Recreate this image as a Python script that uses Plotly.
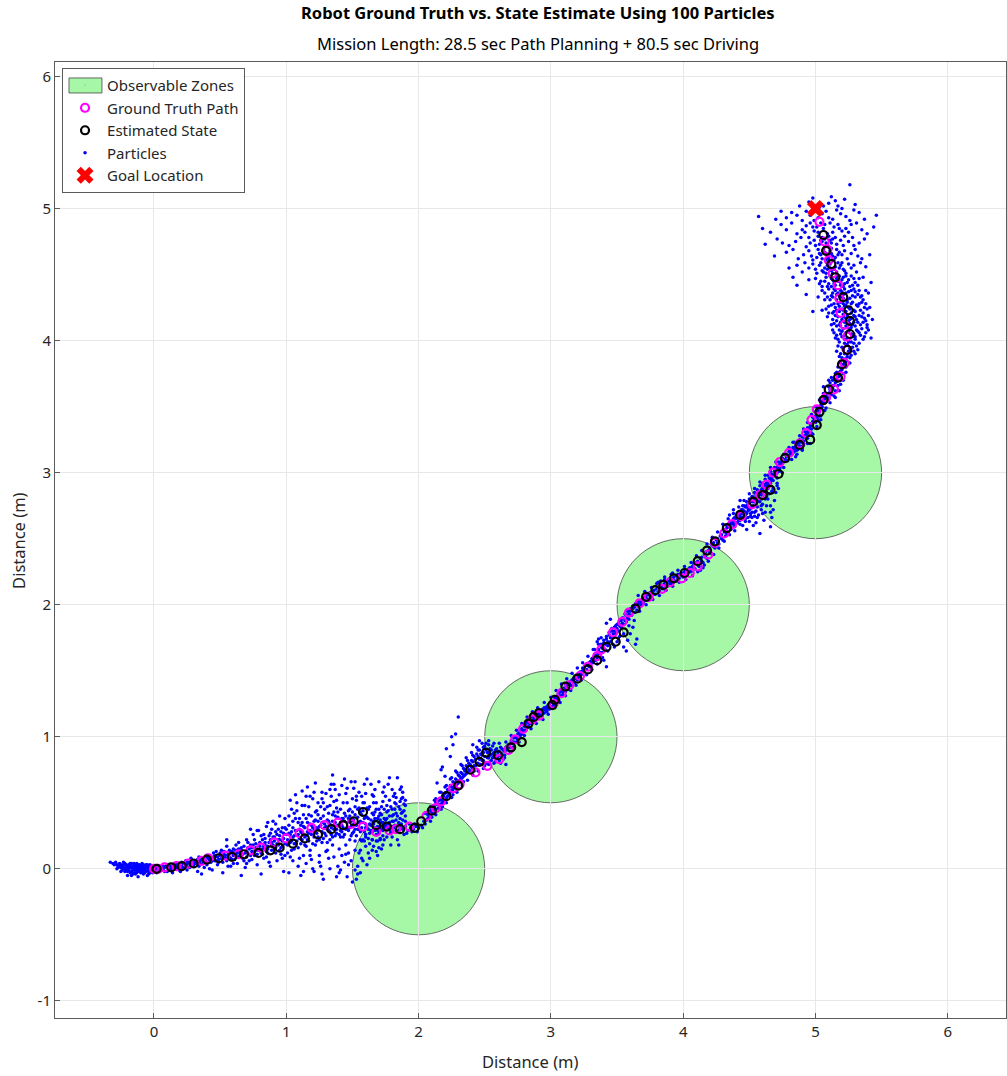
import plotly.graph_objects as go

# ---- mission data -------------------------------------------------------
zone_cx = [2, 3, 4, 5]
zone_cy = [0, 1, 2, 3]
zone_r = [0.5, 0.5, 0.5, 0.5]

goal_x = [5.0]
goal_y = [5.0]

truth_x = [0.00, 0.03, 0.08, 0.17, 0.26, 0.36, 0.41, 0.54, 0.64, 0.73, 0.81, 0.91, 1.00, 1.10,
           1.19, 1.29, 1.39, 1.49, 1.58, 1.68, 1.78, 1.83, 1.93, 2.06, 2.13, 2.17, 2.26, 2.31,
           2.43, 2.52, 2.61, 2.68, 2.73, 2.79, 2.86, 2.91, 3.02, 3.08, 3.14, 3.22, 3.28, 3.35,
           3.38, 3.47, 3.54, 3.59, 3.67, 3.74, 3.84, 3.90, 3.99, 4.05, 4.11, 4.19, 4.24, 4.31,
           4.37, 4.44, 4.52, 4.58, 4.63, 4.68, 4.73, 4.80, 4.88, 4.93, 4.97, 5.01, 5.08, 5.14,
           5.19, 5.22, 5.24, 5.24, 5.22, 5.19, 5.18, 5.17, 5.13, 5.10, 5.09, 5.07, 5.03]
truth_y = [0.00, 0.00, 0.01, 0.02, 0.04, 0.06, 0.08, 0.10, 0.11, 0.14, 0.16, 0.20, 0.23, 0.27,
           0.31, 0.33, 0.35, 0.34, 0.32, 0.28, 0.29, 0.30, 0.32, 0.40, 0.46, 0.51, 0.61, 0.64,
           0.73, 0.78, 0.83, 0.90, 0.98, 1.06, 1.13, 1.16, 1.25, 1.33, 1.39, 1.46, 1.53, 1.61,
           1.66, 1.79, 1.87, 1.94, 2.01, 2.06, 2.12, 2.17, 2.20, 2.24, 2.29, 2.38, 2.47, 2.54,
           2.61, 2.67, 2.76, 2.83, 2.91, 3.00, 3.08, 3.15, 3.22, 3.30, 3.40, 3.48, 3.57, 3.63,
           3.73, 3.83, 3.93, 4.03, 4.12, 4.21, 4.32, 4.42, 4.51, 4.61, 4.69, 4.75, 4.90]

est_x = [0.02, 0.13, 0.21, 0.30, 0.40, 0.49, 0.59, 0.68, 0.79, 0.88, 0.95, 1.05, 1.14, 1.24,
         1.34, 1.43, 1.51, 1.58, 1.68, 1.76, 1.86, 1.97, 2.02, 2.10, 2.21, 2.30, 2.39, 2.46,
         2.51, 2.60, 2.70, 2.78, 2.83, 2.87, 2.91, 3.01, 3.03, 3.11, 3.20, 3.28, 3.35, 3.42,
         3.49, 3.55, 3.64, 3.72, 3.79, 3.85, 3.93, 4.01, 4.11, 4.18, 4.24, 4.33, 4.43, 4.53,
         4.60, 4.66, 4.72, 4.77, 4.88, 4.96, 5.01, 5.03, 5.06, 5.10, 5.17, 5.20, 5.24, 5.26,
         5.26, 5.25, 5.21, 5.15, 5.12, 5.08, 5.06]
est_y = [0.00, 0.01, 0.02, 0.04, 0.07, 0.08, 0.09, 0.11, 0.12, 0.14, 0.16, 0.19, 0.23, 0.26,
         0.30, 0.33, 0.36, 0.43, 0.33, 0.32, 0.30, 0.31, 0.36, 0.44, 0.55, 0.63, 0.75, 0.81,
         0.88, 0.86, 0.92, 0.96, 1.10, 1.15, 1.18, 1.24, 1.28, 1.38, 1.44, 1.51, 1.58, 1.68,
         1.72, 1.79, 1.97, 2.06, 2.11, 2.15, 2.20, 2.24, 2.33, 2.41, 2.48, 2.58, 2.68, 2.78,
         2.83, 2.87, 2.99, 3.11, 3.21, 3.25, 3.36, 3.46, 3.55, 3.63, 3.72, 3.82, 3.93, 4.05,
         4.15, 4.23, 4.33, 4.48, 4.58, 4.68, 4.80]

# particle clouds, grouped by stretch of the drive
particles_start = [
    (-0.33, 0.05), (-0.31, 0.04), (-0.29, 0.05), (-0.28, 0.03), (-0.27, 0.01), (-0.26, 0.04),
    (-0.25, -0.02), (-0.24, 0.02), (-0.23, 0.03), (-0.22, 0.00), (-0.21, -0.01), (-0.20, 0.02),
    (-0.19, 0.03), (-0.18, -0.03), (-0.17, 0.01), (-0.16, -0.01), (-0.15, 0.02), (-0.14, 0.00),
    (-0.13, -0.02), (-0.12, 0.03), (-0.11, 0.01), (-0.10, -0.03), (-0.09, 0.02), (-0.08, 0.00),
    (-0.07, -0.01), (-0.06, 0.03), (-0.05, 0.01), (-0.04, -0.02), (-0.03, 0.02), (-0.02, 0.00),
    (-0.01, -0.03), (0.00, 0.02), (0.01, -0.01), (0.02, 0.01), (0.03, -0.02), (0.04, 0.02),
    (-0.20, -0.05), (-0.16, -0.04), (-0.12, -0.06), (-0.08, -0.04), (-0.05, -0.05), (-0.25, 0.01),
    (-0.18, 0.01), (-0.14, 0.03), (-0.10, 0.00), (-0.06, -0.02), (-0.03, 0.00), (-0.22, 0.04),
    (-0.11, -0.01), (-0.01, 0.01),
    (-0.30, 0.03), (-0.28, 0.00), (-0.26, 0.02), (-0.24, -0.01), (-0.23, 0.05), (-0.21, 0.03),
    (-0.20, -0.02), (-0.19, 0.00), (-0.17, 0.04), (-0.16, 0.02), (-0.15, -0.03), (-0.14, -0.01),
    (-0.13, 0.01), (-0.12, 0.00), (-0.11, 0.03), (-0.10, 0.02), (-0.09, -0.01), (-0.09, 0.00),
    (-0.08, 0.03), (-0.07, 0.01), (-0.07, -0.03), (-0.06, 0.00), (-0.05, -0.01), (-0.05, 0.03),
    (-0.04, 0.01), (-0.03, -0.01), (-0.02, 0.02), (-0.02, -0.02), (-0.01, 0.00), (0.00, -0.01),
    (0.01, 0.02), (0.02, -0.03), (0.03, 0.01), (0.05, 0.00), (0.06, -0.01), (0.07, 0.02),
    (-0.18, 0.02), (-0.15, 0.00), (-0.13, 0.04), (-0.04, -0.04),
    (-0.27, 0.02), (-0.25, 0.03), (-0.23, 0.01), (-0.22, -0.02), (-0.21, 0.01), (-0.19, -0.01),
    (-0.18, 0.04), (-0.17, -0.02), (-0.16, 0.01), (-0.15, 0.04), (-0.14, 0.02), (-0.13, -0.03),
    (-0.12, 0.02), (-0.11, -0.02), (-0.10, 0.01), (-0.09, 0.04), (-0.08, -0.02), (-0.07, 0.02),
    (-0.06, 0.01), (-0.05, 0.02), (-0.04, 0.00), (-0.03, 0.03), (-0.03, -0.03), (-0.01, 0.02),
    (0.00, 0.00), (0.01, 0.01), (0.02, 0.00), (0.04, -0.01), (-0.17, -0.05), (-0.14, -0.04),
]
particles_early = [
    (0.06, 0.01), (0.08, -0.02), (0.10, 0.03), (0.11, -0.01), (0.13, 0.02), (0.14, -0.03),
    (0.16, 0.04), (0.17, 0.00), (0.19, 0.03), (0.20, -0.02), (0.21, 0.05), (0.23, 0.01),
    (0.24, 0.06), (0.25, -0.01), (0.27, 0.04), (0.28, 0.08), (0.30, 0.02), (0.31, 0.06),
    (0.33, -0.02), (0.34, 0.09), (0.35, 0.04), (0.37, 0.07), (0.38, 0.01), (0.40, 0.10),
    (0.41, 0.05), (0.43, 0.08), (0.44, -0.01), (0.45, 0.12), (0.47, 0.06), (0.48, 0.03),
    (0.50, 0.10), (0.51, 0.14), (0.52, 0.05), (0.54, 0.08), (0.55, 0.17), (0.56, 0.02),
    (0.58, 0.12), (0.59, 0.07), (0.60, 0.15), (0.62, 0.10), (0.63, 0.04), (0.64, 0.20),
    (0.65, 0.13), (0.67, 0.08), (0.68, 0.17), (0.69, 0.01), (0.70, 0.22), (0.71, 0.12),
    (0.72, 0.06), (0.74, 0.16), (0.75, 0.26), (0.76, 0.10), (0.77, 0.19), (0.78, 0.03),
    (0.79, 0.29), (0.80, 0.14), (0.81, -0.04), (0.82, 0.22), (0.83, 0.08), (0.84, 0.18),
    (0.85, 0.32), (0.86, 0.12), (0.87, 0.25), (0.88, 0.02), (0.89, 0.20), (0.90, 0.36),
    (0.91, 0.15), (0.92, 0.28), (0.93, 0.06), (0.94, 0.22), (0.95, 0.40), (0.96, 0.11),
    (0.97, 0.31), (0.98, -0.02), (0.99, 0.19), (1.00, 0.26), (0.55, 0.22), (0.78, 0.29),
    (0.86, 0.35), (0.36, -0.04), (0.52, -0.03), (0.66, -0.05), (0.73, 0.30),
    (0.07, 0.00), (0.09, 0.02), (0.10, -0.02), (0.12, 0.01), (0.13, -0.01), (0.15, 0.02),
    (0.16, 0.00), (0.18, 0.02), (0.19, -0.01), (0.21, 0.02), (0.22, 0.00), (0.24, 0.03),
    (0.25, 0.02), (0.26, 0.05), (0.27, 0.01), (0.29, 0.05), (0.30, 0.03), (0.32, 0.06),
    (0.33, 0.04), (0.34, 0.02), (0.36, 0.07), (0.37, 0.04), (0.39, 0.06), (0.40, 0.03),
    (0.42, 0.07), (0.43, 0.05), (0.45, 0.09), (0.46, 0.06), (0.48, 0.09), (0.49, 0.07),
    (0.50, 0.12), (0.52, 0.09), (0.53, 0.11), (0.55, 0.06), (0.56, 0.11), (0.57, 0.09),
    (0.59, 0.13), (0.60, 0.10), (0.61, 0.07), (0.63, 0.12), (0.64, 0.09), (0.66, 0.14),
    (0.67, 0.11), (0.68, 0.06), (0.70, 0.13), (0.71, 0.16), (0.73, 0.10), (0.74, 0.13),
    (0.75, 0.18), (0.77, 0.14), (0.78, 0.11), (0.80, 0.17), (0.81, 0.12), (0.82, 0.15),
    (0.84, 0.20), (0.85, 0.13), (0.86, 0.17), (0.88, 0.22), (0.89, 0.14), (0.90, 0.18),
    (0.91, 0.24), (0.92, 0.12), (0.93, 0.19), (0.95, 0.25), (0.96, 0.16), (0.97, 0.21),
    (0.98, 0.27), (0.99, 0.10), (0.62, 0.18), (0.70, 0.04), (0.83, 0.26), (0.87, 0.05),
    (0.94, 0.30), (0.97, 0.08), (0.58, 0.02), (0.47, 0.13), (0.42, 0.00), (0.76, 0.22),
    (0.92, 0.34), (0.99, 0.38),
    (0.08, 0.01), (0.11, 0.03), (0.14, 0.01), (0.17, 0.03), (0.20, 0.01), (0.22, 0.04),
    (0.25, 0.04), (0.28, 0.03), (0.31, 0.04), (0.33, 0.07), (0.35, 0.06), (0.38, 0.05),
    (0.39, 0.09), (0.41, 0.08), (0.44, 0.06), (0.46, 0.10), (0.49, 0.05), (0.51, 0.08),
    (0.53, 0.13), (0.54, 0.10), (0.57, 0.14), (0.58, 0.08), (0.61, 0.12), (0.62, 0.14),
    (0.65, 0.10), (0.66, 0.16), (0.69, 0.12), (0.70, 0.09), (0.72, 0.15), (0.73, 0.18),
    (0.76, 0.13), (0.77, 0.16), (0.79, 0.14), (0.80, 0.20), (0.82, 0.11), (0.83, 0.17),
    (0.84, 0.23), (0.86, 0.15), (0.87, 0.20), (0.88, 0.27), (0.89, 0.17), (0.90, 0.24),
    (0.91, 0.21), (0.92, 0.16), (0.93, 0.26), (0.94, 0.18), (0.95, 0.22), (0.96, 0.28),
    (0.97, 0.17), (0.98, 0.23), (0.99, 0.31), (1.00, 0.19), (0.60, 0.04), (0.74, 0.07),
    (0.85, 0.09), (0.95, 0.14), (0.89, 0.30), (0.81, 0.25), (0.71, 0.20), (0.64, 0.15),
]
particles_fan = [
    (1.01, 0.18), (1.02, 0.33), (1.03, 0.09), (1.04, 0.45), (1.05, 0.24), (1.02, -0.03), (1.04, 0.28), (1.03, 0.52),
    (1.06, 0.15), (1.07, 0.38), (1.08, 0.21), (1.09, 0.02), (1.10, 0.30), (1.07, 0.56), (1.09, 0.26), (1.06, 0.42),
    (1.11, 0.19), (1.12, 0.35), (1.13, 0.10), (1.14, 0.48), (1.15, 0.25), (1.12, 0.59), (1.14, 0.31), (1.11, -0.05), (1.15, 0.04),
    (1.16, 0.22), (1.17, 0.41), (1.18, 0.14), (1.19, 0.33), (1.20, 0.53), (1.17, 0.27), (1.19, 0.07), (1.16, 0.62),
    (1.21, 0.29), (1.22, 0.18), (1.23, 0.44), (1.24, 0.36), (1.25, 0.10), (1.22, 0.65), (1.24, 0.24), (1.21, -0.02), (1.23, 0.31),
    (1.26, 0.38), (1.27, 0.20), (1.28, 0.50), (1.29, 0.27), (1.30, 0.13), (1.27, 0.58), (1.29, 0.34), (1.28, -0.08), (1.26, 0.02),
    (1.31, 0.30), (1.32, 0.42), (1.33, 0.22), (1.34, 0.55), (1.35, 0.36), (1.32, 0.08), (1.34, 0.64), (1.31, 0.47), (1.35, 0.71), (1.33, 0.28),
    (1.36, 0.33), (1.37, 0.25), (1.38, 0.46), (1.39, 0.39), (1.40, 0.15), (1.37, 0.60), (1.39, 0.02), (1.36, 0.51), (1.38, 0.30), (1.40, -0.03),
    (1.41, 0.35), (1.42, 0.28), (1.43, 0.50), (1.44, 0.42), (1.45, 0.18), (1.42, 0.63), (1.44, 0.05), (1.41, 0.24), (1.43, 0.38), (1.45, 0.57),
    (1.46, 0.31), (1.47, 0.44), (1.48, 0.22), (1.49, 0.36), (1.50, 0.53), (1.47, 0.12), (1.49, 0.66), (1.46, -0.06), (1.48, 0.40), (1.50, 0.27),
    (1.51, 0.34), (1.52, 0.47), (1.53, 0.25), (1.54, 0.39), (1.55, 0.58), (1.52, 0.14), (1.54, 0.02), (1.51, 0.61), (1.53, -0.08), (1.55, 0.30), (1.52, 0.21),
    (1.56, 0.43), (1.57, 0.21), (1.58, 0.35), (1.59, 0.50), (1.60, 0.26), (1.57, 0.08), (1.59, 0.64), (1.56, -0.03), (1.58, 0.22), (1.60, 0.40), (1.57, 0.55),
    (1.61, 0.31), (1.62, 0.45), (1.63, 0.19), (1.64, 0.37), (1.65, 0.56), (1.62, 0.12), (1.64, 0.64), (1.61, 0.03), (1.63, 0.27), (1.65, 0.22),
    (1.66, 0.41), (1.67, 0.29), (1.68, 0.50), (1.69, 0.21), (1.70, 0.35), (1.67, 0.60), (1.69, 0.10), (1.66, 0.17), (1.68, 0.26), (1.70, 0.45),
    (1.71, 0.32), (1.72, 0.47), (1.73, 0.25), (1.74, 0.38), (1.75, 0.55), (1.72, 0.15), (1.74, 0.62), (1.71, 0.22), (1.73, 0.29),
    (1.76, 0.43), (1.77, 0.31), (1.78, 0.52), (1.79, 0.27), (1.80, 0.36), (1.77, 0.64), (1.79, 0.18), (1.80, 0.60), (1.76, 0.24),
    (1.81, 0.41), (1.82, 0.33), (1.83, 0.49), (1.84, 0.69), (1.85, 0.29), (1.82, 0.57), (1.84, 0.22), (1.83, 0.37),
    (1.86, 0.45), (1.87, 0.34), (1.88, 0.54), (1.89, 0.31), (1.90, 0.40), (1.87, 0.62), (1.89, 0.26),
    (1.01, 0.22), (1.02, 0.27), (1.03, 0.20), (1.04, 0.14), (1.05, 0.31), (1.06, 0.25), (1.07, 0.19),
    (1.08, 0.29), (1.09, 0.35), (1.10, 0.23), (1.11, 0.28), (1.12, 0.22), (1.13, 0.32), (1.14, 0.18),
    (1.15, 0.38), (1.16, 0.28), (1.17, 0.21), (1.18, 0.34), (1.19, 0.26), (1.20, 0.31), (1.21, 0.24),
    (1.22, 0.37), (1.23, 0.27), (1.24, 0.30), (1.25, 0.22), (1.26, 0.33), (1.27, 0.28), (1.28, 0.40),
    (1.29, 0.31), (1.30, 0.25), (1.31, 0.37), (1.32, 0.29), (1.33, 0.34), (1.34, 0.26), (1.35, 0.41),
    (1.36, 0.30), (1.37, 0.35), (1.38, 0.27), (1.39, 0.43), (1.40, 0.33), (1.41, 0.29), (1.42, 0.38),
    (1.43, 0.31), (1.44, 0.26), (1.45, 0.40), (1.46, 0.35), (1.47, 0.29), (1.48, 0.45), (1.49, 0.32),
    (1.50, 0.38), (1.51, 0.28), (1.52, 0.41), (1.53, 0.33), (1.54, 0.30), (1.55, 0.46), (1.56, 0.36),
    (1.57, 0.31), (1.58, 0.44), (1.59, 0.28), (1.60, 0.34), (1.61, 0.39), (1.62, 0.30), (1.63, 0.47),
    (1.64, 0.33), (1.65, 0.28), (1.66, 0.36), (1.67, 0.43), (1.68, 0.31), (1.69, 0.38), (1.70, 0.27),
    (1.71, 0.42), (1.72, 0.35), (1.73, 0.51), (1.74, 0.31), (1.75, 0.37), (1.76, 0.48), (1.77, 0.34),
    (1.78, 0.40), (1.79, 0.32), (1.80, 0.45), (1.81, 0.36), (1.82, 0.50), (1.83, 0.42), (1.84, 0.33),
    (1.85, 0.47), (1.86, 0.38), (1.87, 0.53), (1.88, 0.43), (1.89, 0.49), (1.90, 0.36),
    (1.05, 0.06), (1.12, 0.48), (1.18, 0.55), (1.24, 0.50), (1.30, 0.57), (1.36, 0.64), (1.44, 0.68),
    (1.52, 0.66), (1.61, 0.68), (1.70, 0.66), (1.78, 0.69), (1.86, 0.60), (1.13, -0.02), (1.20, 0.00),
    (1.27, -0.04), (1.33, 0.00), (1.38, -0.06), (1.42, 0.10), (1.47, 0.03), (1.50, -0.10), (1.54, -0.04),
    (1.58, 0.06), (1.63, 0.08), (1.68, 0.13), (1.73, 0.18), (1.80, 0.24), (1.85, 0.18), (1.90, 0.48),
    (1.56, 0.14), (1.66, 0.50),
    (1.00, 0.30), (1.01, 0.12), (1.02, 0.40), (1.03, 0.26), (1.04, 0.21), (1.05, 0.36), (1.06, 0.19),
    (1.07, 0.29), (1.08, 0.44), (1.09, 0.16), (1.10, 0.38), (1.11, 0.33), (1.12, 0.27), (1.13, 0.41),
    (1.14, 0.24), (1.15, 0.17), (1.16, 0.35), (1.17, 0.47), (1.18, 0.29), (1.19, 0.40), (1.20, 0.19),
    (1.21, 0.36), (1.22, 0.43), (1.23, 0.21), (1.24, 0.41), (1.25, 0.32), (1.26, 0.47), (1.27, 0.35),
    (1.28, 0.23), (1.29, 0.45), (1.30, 0.32), (1.31, 0.20), (1.32, 0.36), (1.33, 0.48), (1.34, 0.31),
    (1.35, 0.24), (1.36, 0.43), (1.37, 0.40), (1.38, 0.52), (1.39, 0.33), (1.40, 0.26), (1.41, 0.45),
    (1.42, 0.33), (1.43, 0.24), (1.44, 0.36), (1.45, 0.30), (1.46, 0.50), (1.47, 0.38), (1.48, 0.31),
    (1.49, 0.25), (1.50, 0.43), (1.51, 0.37), (1.52, 0.30), (1.53, 0.52), (1.54, 0.45), (1.55, 0.35),
    (1.56, 0.28), (1.57, 0.41), (1.58, 0.50), (1.59, 0.38), (1.60, 0.31), (1.61, 0.46), (1.62, 0.38),
    (1.63, 0.34), (1.64, 0.29), (1.65, 0.42), (1.66, 0.34), (1.67, 0.38), (1.68, 0.45), (1.69, 0.29),
    (1.70, 0.40), (1.71, 0.37), (1.72, 0.41), (1.73, 0.35), (1.74, 0.45), (1.75, 0.33), (1.76, 0.38),
    (1.77, 0.44), (1.78, 0.35), (1.79, 0.47), (1.80, 0.40), (1.81, 0.31), (1.82, 0.45), (1.83, 0.54),
    (1.84, 0.40), (1.85, 0.35), (1.86, 0.51), (1.87, 0.42), (1.88, 0.37), (1.89, 0.44), (1.90, 0.52),
    (1.08, 0.50), (1.15, 0.55), (1.21, 0.58), (1.27, 0.53), (1.33, 0.60), (1.40, 0.56), (1.46, 0.61),
    (1.53, 0.55), (1.60, 0.57), (1.66, 0.55), (1.73, 0.58), (1.81, 0.55), (1.88, 0.58), (1.25, 0.05),
    (1.31, 0.14), (1.36, 0.09), (1.41, -0.01), (1.45, 0.11), (1.49, 0.06), (1.52, -0.01), (1.55, 0.12),
    (1.60, 0.17), (1.65, 0.14), (1.70, 0.16), (1.35, 0.18), (1.18, 0.10), (1.10, 0.08),
]
particles_zone1 = [
    (1.66, 0.31), (1.69, 0.32), (1.72, 0.30), (1.75, 0.31), (1.78, 0.30), (1.80, 0.32), (1.83, 0.29),
    (1.86, 0.31), (1.88, 0.30), (1.90, 0.32), (1.92, 0.29), (1.94, 0.31), (1.96, 0.30), (1.98, 0.32),
    (2.00, 0.31), (2.02, 0.33), (1.91, 0.27), (1.95, 0.28), (1.99, 0.28), (1.85, 0.33), (1.79, 0.28),
    (1.73, 0.33), (1.56, 0.22), (1.59, 0.21), (1.62, 0.23), (1.65, 0.22), (1.68, 0.21), (1.71, 0.23),
    (1.74, 0.22), (1.60, 0.24), (2.04, 0.36), (2.05, 0.34), (2.07, 0.38), (2.03, 0.31), (1.97, 0.34),
    (1.93, 0.34),
    (2.08, 0.40), (2.09, 0.44), (2.10, 0.42), (2.11, 0.47), (2.12, 0.44), (2.14, 0.49), (2.15, 0.46),
    (2.16, 0.52), (2.17, 0.49), (2.18, 0.55), (2.19, 0.51), (2.20, 0.57), (2.21, 0.53), (2.22, 0.60),
    (2.23, 0.56), (2.24, 0.63), (2.25, 0.59), (2.26, 0.66), (2.27, 0.62), (2.28, 0.68), (2.29, 0.64),
    (2.30, 0.71), (2.31, 0.67), (2.32, 0.73), (2.33, 0.69), (2.34, 0.76), (2.35, 0.71), (2.36, 0.78),
    (2.37, 0.73), (2.38, 0.80), (2.39, 0.74), (2.40, 0.82), (2.41, 0.76), (2.42, 0.85), (2.43, 0.78),
    (2.44, 0.87), (2.45, 0.80), (2.46, 0.90), (2.47, 0.79), (2.48, 0.86), (2.49, 0.82), (2.50, 0.93),
    (2.51, 0.80), (2.52, 0.88), (2.53, 0.84), (2.54, 0.91), (2.55, 0.82), (2.56, 0.87), (2.57, 0.85),
    (2.58, 0.90), (2.59, 0.84), (2.60, 0.88), (2.62, 0.86), (2.63, 0.91), (2.64, 0.83), (2.65, 0.89),
    (2.13, 0.50), (2.18, 0.52), (2.27, 0.65), (2.35, 0.75),
    (2.30, 1.15), (2.28, 1.02), (2.25, 1.00), (2.26, 0.94), (2.21, 0.91), (2.18, 0.77), (2.17, 0.75),
    (2.14, 0.65), (2.46, 0.97), (2.41, 0.94), (2.51, 0.95), (2.62, 0.80), (2.66, 0.79), (2.24, 0.85),
    (2.20, 0.70),
    (2.06, 0.37), (2.07, 0.41), (2.08, 0.43), (2.09, 0.40), (2.10, 0.45), (2.11, 0.42), (2.12, 0.47),
    (2.13, 0.45), (2.14, 0.51), (2.15, 0.49), (2.16, 0.48), (2.17, 0.53), (2.18, 0.50), (2.19, 0.55),
    (2.20, 0.53), (2.21, 0.58), (2.22, 0.55), (2.23, 0.60), (2.24, 0.58), (2.25, 0.62), (2.26, 0.60),
    (2.27, 0.64), (2.28, 0.63), (2.29, 0.67), (2.30, 0.65), (2.31, 0.70), (2.32, 0.68), (2.33, 0.72),
    (2.34, 0.70), (2.35, 0.74), (2.36, 0.72), (2.37, 0.77), (2.38, 0.75), (2.39, 0.79), (2.40, 0.77),
    (2.41, 0.81), (2.42, 0.78), (2.43, 0.83), (2.44, 0.80), (2.45, 0.85), (2.46, 0.83), (2.47, 0.87),
    (2.48, 0.82), (2.49, 0.88), (2.50, 0.85), (2.51, 0.90), (2.52, 0.84), (2.53, 0.88), (2.54, 0.86),
    (2.55, 0.90), (2.56, 0.84), (2.57, 0.88), (2.58, 0.86), (2.59, 0.91), (2.60, 0.85), (2.61, 0.89),
    (2.62, 0.92), (2.63, 0.87), (2.64, 0.90), (2.66, 0.92), (2.44, 0.92), (2.48, 0.95), (2.53, 0.97),
    (2.56, 0.93), (2.40, 0.88), (2.36, 0.84), (2.32, 0.79), (2.28, 0.74), (2.24, 0.68), (2.20, 0.62),
    (2.16, 0.58), (2.12, 0.52), (2.42, 0.74), (2.50, 0.78), (2.58, 0.81), (2.34, 0.66), (2.26, 0.56),
    (2.18, 0.47), (2.10, 0.39), (2.65, 0.84),
    (2.05, 0.42), (2.09, 0.47), (2.13, 0.53), (2.17, 0.58), (2.21, 0.63), (2.25, 0.69), (2.29, 0.73),
    (2.33, 0.78), (2.37, 0.82), (2.41, 0.86), (2.45, 0.90), (2.49, 0.92), (2.53, 0.94), (2.57, 0.95),
    (2.61, 0.95), (2.09, 0.36), (2.13, 0.41), (2.17, 0.45), (2.21, 0.50), (2.25, 0.54), (2.29, 0.58),
    (2.33, 0.63), (2.37, 0.67), (2.41, 0.71), (2.45, 0.74), (2.49, 0.76), (2.53, 0.79), (2.57, 0.80),
    (2.61, 0.82), (2.65, 0.86),
]
particles_zone2 = [
    (2.67, 0.93), (2.69, 0.89), (2.70, 0.95), (2.71, 0.92), (2.72, 0.99), (2.74, 0.96), (2.75, 1.02),
    (2.76, 0.99), (2.77, 1.05), (2.78, 1.02), (2.80, 1.08), (2.81, 1.05), (2.82, 1.11), (2.83, 1.08),
    (2.84, 1.13), (2.85, 1.10), (2.87, 1.15), (2.88, 1.12), (2.89, 1.17), (2.90, 1.14), (2.92, 1.19),
    (2.93, 1.16), (2.94, 1.21), (2.95, 1.18), (2.96, 1.22), (2.97, 1.19), (2.98, 1.24), (2.99, 1.21),
    (3.00, 1.26), (3.01, 1.22), (3.03, 1.28), (3.04, 1.25), (3.05, 1.31), (3.06, 1.28), (3.07, 1.34),
    (3.09, 1.32), (3.10, 1.37), (3.11, 1.34), (3.12, 1.39), (3.13, 1.36), (3.15, 1.42), (3.16, 1.39),
    (3.17, 1.44), (3.18, 1.41), (3.19, 1.46), (3.20, 1.43), (3.21, 1.48), (3.23, 1.49), (3.24, 1.52),
    (3.25, 1.49), (3.26, 1.54), (3.27, 1.51), (3.29, 1.56), (3.30, 1.53), (3.31, 1.59), (3.32, 1.56),
    (3.33, 1.61), (3.34, 1.58),
    (3.36, 1.63), (3.37, 1.60), (3.38, 1.68), (3.39, 1.64), (3.40, 1.71), (3.41, 1.66), (3.42, 1.74),
    (3.43, 1.69), (3.44, 1.77), (3.45, 1.72), (3.46, 1.80), (3.47, 1.75), (3.48, 1.83), (3.49, 1.78),
    (3.50, 1.85), (3.51, 1.80), (3.52, 1.88), (3.53, 1.83), (3.54, 1.90), (3.55, 1.85), (3.56, 1.93),
    (3.57, 1.87), (3.58, 1.95), (3.59, 1.89), (3.60, 1.97), (3.61, 1.92), (3.62, 1.99), (3.63, 1.94),
    (3.64, 2.01), (3.65, 1.96), (3.66, 2.03), (3.68, 2.00), (3.45, 1.89), (3.42, 1.86), (3.65, 1.74),
    (3.64, 1.70), (3.57, 1.65), (3.55, 1.68), (3.42, 1.53), (3.40, 1.58), (3.38, 1.75), (3.36, 1.70),
    (3.60, 1.78), (3.58, 1.73), (3.62, 1.83), (3.50, 1.72), (3.48, 1.68), (3.52, 1.76), (3.35, 1.72),
    (3.33, 1.66),
    (2.67, 0.90), (2.68, 0.94), (2.69, 0.92), (2.70, 0.97), (2.71, 0.95), (2.72, 0.96), (2.73, 1.00),
    (2.74, 0.99), (2.75, 0.98), (2.76, 1.03), (2.77, 1.01), (2.78, 1.06), (2.79, 1.04), (2.80, 1.05),
    (2.81, 1.09), (2.82, 1.07), (2.83, 1.12), (2.84, 1.10), (2.85, 1.15), (2.86, 1.12), (2.87, 1.13),
    (2.88, 1.17), (2.89, 1.14), (2.90, 1.19), (2.91, 1.17), (2.92, 1.16), (2.93, 1.20), (2.94, 1.18),
    (2.95, 1.22), (2.96, 1.20), (2.97, 1.23), (2.98, 1.21), (2.99, 1.25), (3.00, 1.23), (3.01, 1.27),
    (3.02, 1.24), (3.03, 1.30), (3.04, 1.28), (3.05, 1.29), (3.06, 1.33), (3.07, 1.31), (3.08, 1.35),
    (3.09, 1.34), (3.10, 1.36), (3.11, 1.40), (3.12, 1.37), (3.13, 1.41), (3.14, 1.40), (3.15, 1.39),
    (3.16, 1.43), (3.17, 1.42), (3.18, 1.45), (3.19, 1.44), (3.20, 1.47), (3.21, 1.45), (3.22, 1.49),
    (3.23, 1.47), (3.24, 1.50), (3.25, 1.52), (3.26, 1.51), (3.27, 1.55), (3.28, 1.54), (3.29, 1.53),
    (3.30, 1.57), (3.31, 1.56), (3.32, 1.60), (3.33, 1.58), (3.34, 1.62), (3.35, 1.60), (3.36, 1.66),
    (3.37, 1.64), (3.38, 1.70), (3.39, 1.67), (3.40, 1.73), (3.41, 1.70), (3.42, 1.76), (3.43, 1.72),
    (3.44, 1.79), (3.45, 1.75), (3.46, 1.82), (3.47, 1.78), (3.48, 1.80), (3.49, 1.84), (3.50, 1.82),
    (3.51, 1.86), (3.52, 1.84), (3.53, 1.88), (3.54, 1.86), (3.55, 1.90), (3.56, 1.88), (3.57, 1.92),
    (3.58, 1.90), (3.59, 1.93), (3.60, 1.95), (3.61, 1.96), (3.62, 1.97), (3.63, 1.98), (3.64, 1.99),
    (3.65, 2.00), (3.66, 2.01),
    (2.66, 0.96), (2.70, 1.01), (2.74, 1.05), (2.78, 1.10), (2.82, 1.15), (2.86, 1.19), (2.90, 1.22),
    (2.95, 1.26), (3.00, 1.30), (3.04, 1.35), (3.08, 1.40), (3.12, 1.44), (3.16, 1.48), (3.20, 1.52),
    (3.24, 1.56), (3.28, 1.61), (3.32, 1.66), (3.36, 1.74),
    (2.72, 0.92), (2.76, 0.96), (2.80, 1.01), (2.85, 1.06), (2.89, 1.10), (2.94, 1.13), (2.98, 1.17),
    (3.03, 1.22), (3.07, 1.26), (3.11, 1.31), (3.15, 1.35), (3.19, 1.39), (3.23, 1.43), (3.27, 1.47),
    (3.31, 1.51), (3.35, 1.55), (3.39, 1.60), (3.43, 1.65), (3.47, 1.70), (3.51, 1.74), (3.55, 1.78),
    (3.59, 1.84), (3.63, 1.88), (3.67, 1.95),
]
particles_zone3 = [
    (3.69, 2.04), (3.70, 2.01), (3.72, 2.07), (3.73, 2.04), (3.75, 2.09), (3.76, 2.06), (3.78, 2.11),
    (3.79, 2.08), (3.81, 2.13), (3.82, 2.10), (3.84, 2.15), (3.85, 2.12), (3.87, 2.17), (3.88, 2.14),
    (3.90, 2.20), (3.91, 2.16), (3.93, 2.21), (3.94, 2.18), (3.96, 2.23), (3.97, 2.20), (3.99, 2.24),
    (4.00, 2.21), (4.02, 2.26), (4.03, 2.23), (4.05, 2.28), (4.06, 2.25), (4.08, 2.31), (4.09, 2.27),
    (4.11, 2.33), (4.12, 2.29), (4.14, 2.36), (4.15, 2.32), (4.17, 2.40), (4.18, 2.35), (4.20, 2.43),
    (4.21, 2.39), (4.23, 2.47), (4.24, 2.43), (4.26, 2.50), (4.27, 2.46), (4.29, 2.53), (4.30, 2.49),
    (3.86, 2.19), (3.83, 2.18), (3.80, 2.16), (3.92, 2.24), (4.13, 2.26), (4.16, 2.30),
    (4.31, 2.57), (4.32, 2.52), (4.33, 2.60), (4.34, 2.55), (4.35, 2.62), (4.36, 2.57), (4.38, 2.65),
    (4.39, 2.59), (4.40, 2.67), (4.41, 2.62), (4.42, 2.70), (4.43, 2.64), (4.44, 2.72), (4.45, 2.66),
    (4.46, 2.75), (4.47, 2.68), (4.48, 2.78), (4.49, 2.71), (4.50, 2.80), (4.51, 2.73), (4.52, 2.82),
    (4.53, 2.75), (4.54, 2.85), (4.55, 2.77), (4.56, 2.87), (4.57, 2.80), (4.58, 2.90), (4.59, 2.83),
    (4.60, 2.92), (4.61, 2.86), (4.62, 2.95), (4.63, 2.88), (4.64, 2.98), (4.65, 2.91), (4.66, 3.01),
    (4.67, 2.94), (4.69, 3.04), (4.70, 2.97), (4.72, 3.08), (4.73, 3.01), (4.75, 3.11), (4.76, 3.04),
    (4.68, 2.72), (4.66, 2.59), (4.58, 2.54), (4.48, 2.57), (4.40, 2.65), (4.55, 2.62), (4.62, 2.70),
    (4.52, 2.66), (4.60, 2.76), (4.57, 2.68), (4.64, 2.80), (4.70, 2.85), (4.50, 2.63), (4.45, 2.60),
    (4.35, 2.68), (4.38, 2.72), (4.43, 2.79), (4.66, 2.75), (4.54, 2.70), (4.71, 2.92),
    (3.68, 2.02), (3.70, 2.05), (3.71, 2.03), (3.72, 2.05), (3.74, 2.08), (3.75, 2.06), (3.77, 2.10),
    (3.78, 2.08), (3.80, 2.12), (3.81, 2.10), (3.83, 2.14), (3.84, 2.12), (3.86, 2.16), (3.87, 2.14),
    (3.89, 2.18), (3.90, 2.16), (3.92, 2.20), (3.93, 2.18), (3.95, 2.22), (3.96, 2.20), (3.98, 2.23),
    (3.99, 2.22), (4.01, 2.25), (4.02, 2.24), (4.04, 2.27), (4.05, 2.25), (4.07, 2.29), (4.08, 2.28),
    (4.10, 2.32), (4.11, 2.30), (4.13, 2.35), (4.14, 2.33), (4.16, 2.38), (4.17, 2.36), (4.19, 2.41),
    (4.20, 2.40), (4.22, 2.45), (4.23, 2.44), (4.25, 2.49), (4.26, 2.47), (4.28, 2.52), (4.29, 2.50),
    (4.31, 2.55), (4.32, 2.56), (4.33, 2.58), (4.34, 2.59), (4.36, 2.61), (4.37, 2.62), (4.38, 2.63),
    (4.39, 2.66), (4.41, 2.66), (4.42, 2.68), (4.43, 2.70), (4.44, 2.69), (4.45, 2.72), (4.46, 2.71),
    (4.47, 2.74), (4.48, 2.75), (4.49, 2.76), (4.50, 2.77), (4.51, 2.79), (4.52, 2.78), (4.53, 2.81),
    (4.54, 2.80), (4.55, 2.83), (4.56, 2.82), (4.57, 2.85), (4.58, 2.84), (4.59, 2.87), (4.60, 2.88),
    (4.61, 2.89), (4.62, 2.91), (4.63, 2.93), (4.64, 2.92), (4.65, 2.96), (4.66, 2.95), (4.67, 2.99),
    (4.68, 2.98), (4.69, 3.01), (4.70, 3.02), (4.71, 3.04), (4.72, 3.05), (4.73, 3.06), (4.74, 3.08),
    (4.75, 3.07), (4.76, 3.09),
    (4.47, 2.63), (4.51, 2.69), (4.53, 2.60), (4.56, 2.66), (4.59, 2.72), (4.61, 2.64), (4.63, 2.75),
    (4.65, 2.84), (4.67, 2.66), (4.69, 2.79), (4.72, 2.88), (4.49, 2.66), (4.56, 2.74), (4.62, 2.80),
    (4.33, 2.54), (4.35, 2.59), (4.37, 2.58), (4.38, 2.61), (4.40, 2.62), (4.41, 2.69), (4.42, 2.64),
    (4.44, 2.66), (4.45, 2.75), (4.46, 2.68), (4.47, 2.70), (4.49, 2.73), (4.50, 2.72), (4.52, 2.74),
    (4.53, 2.78), (4.55, 2.80), (4.56, 2.78), (4.57, 2.83), (4.59, 2.80), (4.60, 2.85), (4.62, 2.86),
    (4.63, 2.90), (4.64, 2.88), (4.66, 2.92), (4.67, 2.96), (4.68, 2.94), (4.70, 2.99), (4.71, 3.00),
    (4.73, 3.03), (4.74, 3.05), (4.52, 2.70), (4.58, 2.78), (4.64, 2.84), (4.68, 2.88), (4.54, 2.67),
    (4.60, 2.69), (4.48, 2.69), (4.43, 2.67), (4.66, 2.70), (4.71, 2.96),
    (3.66, 2.07), (3.71, 2.10), (3.76, 2.13), (3.81, 2.17), (3.86, 2.21), (3.91, 2.23), (3.96, 2.26),
    (4.01, 2.29), (4.06, 2.32), (4.10, 2.37), (4.14, 2.41), (4.18, 2.46), (4.22, 2.51), (4.26, 2.55),
    (4.30, 2.61), (4.34, 2.65), (4.38, 2.69), (4.42, 2.74), (4.46, 2.79), (4.50, 2.84), (4.54, 2.88),
    (4.58, 2.93), (4.62, 2.98), (4.66, 3.04), (4.70, 3.08),
    (3.72, 2.00), (3.77, 2.04), (3.82, 2.07), (3.87, 2.11), (3.92, 2.14), (3.97, 2.17), (4.02, 2.19),
    (4.07, 2.22), (4.11, 2.25), (4.15, 2.28), (4.19, 2.33), (4.23, 2.38), (4.27, 2.43), (4.31, 2.48),
    (4.35, 2.53), (4.39, 2.56), (4.43, 2.61), (4.47, 2.65), (4.51, 2.67), (4.55, 2.71), (4.59, 2.75),
    (4.63, 2.82), (4.67, 2.86), (4.71, 2.90), (4.75, 3.00),
]
particles_zone4 = [
    (4.77, 3.10), (4.78, 3.14), (4.79, 3.12), (4.81, 3.17), (4.82, 3.14), (4.83, 3.19), (4.84, 3.16),
    (4.86, 3.21), (4.87, 3.18), (4.88, 3.25), (4.89, 3.20), (4.90, 3.27), (4.91, 3.24), (4.92, 3.31),
    (4.93, 3.26), (4.94, 3.34), (4.95, 3.30), (4.96, 3.37), (4.97, 3.33), (4.98, 3.42), (4.99, 3.38),
    (5.00, 3.46), (5.01, 3.42), (5.02, 3.50), (5.03, 3.46), (5.04, 3.54), (5.05, 3.50), (5.06, 3.57),
    (5.07, 3.53), (5.09, 3.60), (5.10, 3.56), (5.11, 3.63), (5.12, 3.59), (5.13, 3.66), (5.15, 3.62),
    (5.16, 3.69), (5.17, 3.66), (5.18, 3.76), (5.19, 3.70), (5.20, 3.80), (5.21, 3.75), (5.22, 3.86),
    (5.23, 3.80), (4.85, 3.12), (4.90, 3.18), (4.96, 3.22), (5.02, 3.40), (5.08, 3.49), (5.14, 3.58),
    (5.12, 3.72), (5.06, 3.65), (5.10, 3.70), (5.17, 3.80),
    (4.78, 3.12), (4.80, 3.13), (4.81, 3.15), (4.82, 3.17), (4.84, 3.18), (4.85, 3.20), (4.86, 3.19),
    (4.87, 3.22), (4.89, 3.23), (4.90, 3.24), (4.91, 3.27), (4.92, 3.28), (4.93, 3.29), (4.94, 3.31),
    (4.95, 3.33), (4.96, 3.35), (4.97, 3.36), (4.98, 3.39), (4.99, 3.41), (5.00, 3.43), (5.01, 3.45),
    (5.02, 3.47), (5.03, 3.49), (5.04, 3.51), (5.05, 3.53), (5.06, 3.54), (5.07, 3.56), (5.08, 3.58),
    (5.09, 3.57), (5.10, 3.60), (5.11, 3.61), (5.12, 3.63), (5.13, 3.64), (5.14, 3.66), (5.15, 3.68),
    (5.16, 3.71), (5.17, 3.73), (5.18, 3.73), (5.19, 3.77), (5.20, 3.78), (5.21, 3.82), (5.22, 3.83),
    (5.23, 3.84), (5.24, 3.88), (4.83, 3.23), (4.91, 3.22), (5.04, 3.43), (5.11, 3.68), (5.19, 3.67),
    (5.15, 3.75),
    (4.79, 3.09), (4.80, 3.16), (4.83, 3.15), (4.86, 3.17), (4.88, 3.20), (4.91, 3.21), (4.94, 3.26),
    (4.97, 3.30), (5.00, 3.38), (5.03, 3.43),
    (4.76, 3.14), (4.80, 3.19), (4.84, 3.23), (4.88, 3.28), (4.91, 3.33), (4.94, 3.38), (4.97, 3.44),
    (5.00, 3.50), (5.03, 3.55), (5.06, 3.60), (5.10, 3.65), (5.13, 3.70), (5.16, 3.76), (5.19, 3.83),
    (4.82, 3.10), (4.86, 3.14), (4.90, 3.17), (4.94, 3.22), (4.98, 3.29), (5.01, 3.35), (5.04, 3.40),
    (5.07, 3.47), (5.11, 3.53), (5.15, 3.57), (5.18, 3.62), (5.21, 3.70), (5.23, 3.76), (5.26, 3.83),
]
particles_final = [
    (5.18, 3.88), (5.22, 3.90), (5.26, 3.87), (5.29, 3.92), (5.20, 3.95), (5.24, 3.97), (5.31, 3.96),
    (5.16, 3.92), (5.27, 3.99), (5.23, 3.86),
    (5.15, 4.02), (5.19, 4.05), (5.22, 4.01), (5.25, 4.07), (5.28, 4.03), (5.31, 4.08), (5.34, 4.04),
    (5.38, 4.06), (5.21, 4.09), (5.27, 4.10), (5.42, 4.02), (5.13, 4.08),
    (5.12, 4.12), (5.16, 4.15), (5.19, 4.11), (5.23, 4.17), (5.26, 4.13), (5.29, 4.19), (5.32, 4.14),
    (5.35, 4.18), (5.39, 4.12), (5.43, 4.16), (5.21, 4.20), (5.09, 4.18), (5.30, 4.11),
    (5.05, 4.23), (5.10, 4.26), (5.14, 4.22), (5.17, 4.28), (5.20, 4.24), (5.24, 4.29), (5.27, 4.21),
    (5.31, 4.27), (5.34, 4.23), (5.38, 4.28), (4.98, 4.22), (5.22, 4.26), (5.41, 4.25),
    (5.02, 4.33), (5.07, 4.36), (5.11, 4.31), (5.15, 4.38), (5.18, 4.34), (5.22, 4.39), (5.26, 4.32),
    (5.30, 4.37), (5.34, 4.33), (5.40, 4.36), (4.93, 4.35), (5.13, 4.33), (5.20, 4.37),
    (4.86, 4.42), (4.95, 4.46), (5.03, 4.43), (5.08, 4.48), (5.12, 4.41), (5.16, 4.47), (5.19, 4.44),
    (5.23, 4.49), (5.28, 4.42), (5.33, 4.47), (5.42, 4.44), (4.83, 4.48), (5.14, 4.45), (5.21, 4.41),
    (4.80, 4.55), (4.90, 4.52), (4.98, 4.58), (5.05, 4.53), (5.09, 4.57), (5.13, 4.51), (5.17, 4.59),
    (5.21, 4.54), (5.25, 4.58), (5.31, 4.52), (5.38, 4.56), (5.11, 4.55), (4.92, 4.59),
    (4.69, 4.64), (4.78, 4.67), (4.87, 4.62), (4.95, 4.68), (5.01, 4.63), (5.06, 4.69), (5.10, 4.65),
    (5.14, 4.61), (5.18, 4.67), (5.24, 4.62), (5.30, 4.69), (5.41, 4.65), (5.08, 4.61), (5.12, 4.70),
    (4.62, 4.73), (4.71, 4.77), (4.80, 4.72), (4.89, 4.78), (4.96, 4.74), (5.02, 4.79), (5.07, 4.71),
    (5.11, 4.76), (5.16, 4.73), (5.22, 4.79), (5.29, 4.72), (5.37, 4.77), (5.05, 4.75),
    (4.60, 4.85), (4.66, 4.82), (4.74, 4.88), (4.78, 4.84), (4.86, 4.81), (4.93, 4.87), (4.99, 4.83),
    (5.04, 4.89), (5.09, 4.81), (5.14, 4.86), (5.20, 4.83), (5.27, 4.88), (5.35, 4.84), (5.44, 4.86),
    (5.01, 4.86),
    (4.57, 4.94), (4.70, 4.92), (4.82, 4.97), (4.90, 4.91), (4.96, 4.95), (5.02, 4.93), (5.08, 4.98),
    (5.13, 4.92), (5.19, 4.96), (5.26, 4.91), (5.33, 4.97), (5.46, 4.95), (4.74, 4.98),
    (4.88, 5.02), (4.95, 5.05), (5.03, 5.01), (5.10, 5.04), (5.17, 5.02), (5.22, 5.07), (5.30, 5.03),
    (5.12, 5.09), (5.26, 5.18), (4.98, 5.08),
    (5.19, 3.90), (5.21, 3.93), (5.25, 3.92), (5.28, 3.95), (5.22, 3.98), (5.30, 3.90), (5.17, 3.96),
    (5.26, 3.94), (5.33, 3.98),
    (5.16, 4.04), (5.18, 4.08), (5.20, 4.03), (5.23, 4.06), (5.24, 4.02), (5.26, 4.09), (5.29, 4.05),
    (5.30, 4.01), (5.32, 4.07), (5.35, 4.09), (5.36, 4.01), (5.40, 4.08), (5.17, 4.01),
    (5.14, 4.13), (5.17, 4.18), (5.18, 4.12), (5.20, 4.16), (5.22, 4.14), (5.24, 4.19), (5.25, 4.15),
    (5.27, 4.17), (5.28, 4.12), (5.31, 4.16), (5.33, 4.19), (5.36, 4.14), (5.37, 4.17), (5.15, 4.19),
    (5.40, 4.19),
    (5.08, 4.24), (5.12, 4.27), (5.13, 4.21), (5.15, 4.25), (5.18, 4.22), (5.19, 4.29), (5.21, 4.23),
    (5.23, 4.27), (5.25, 4.25), (5.28, 4.29), (5.29, 4.23), (5.32, 4.26), (5.35, 4.29), (5.36, 4.21),
    (5.39, 4.24),
    (5.05, 4.38), (5.09, 4.33), (5.10, 4.39), (5.13, 4.36), (5.16, 4.31), (5.17, 4.36), (5.19, 4.33),
    (5.21, 4.35), (5.24, 4.31), (5.25, 4.37), (5.28, 4.34), (5.29, 4.39), (5.32, 4.35), (5.36, 4.31),
    (5.38, 4.38),
    (5.00, 4.47), (5.05, 4.41), (5.07, 4.45), (5.10, 4.43), (5.11, 4.49), (5.13, 4.46), (5.15, 4.42),
    (5.17, 4.45), (5.18, 4.49), (5.20, 4.46), (5.22, 4.43), (5.25, 4.46), (5.27, 4.49), (5.30, 4.44),
    (5.36, 4.48),
    (4.95, 4.55), (5.01, 4.51), (5.03, 4.57), (5.07, 4.55), (5.08, 4.51), (5.10, 4.59), (5.12, 4.53),
    (5.15, 4.56), (5.16, 4.52), (5.19, 4.57), (5.23, 4.51), (5.27, 4.55), (5.34, 4.59), (4.86, 4.57),
    (4.91, 4.65), (4.98, 4.61), (5.03, 4.66), (5.05, 4.62), (5.07, 4.67), (5.09, 4.63), (5.11, 4.68),
    (5.13, 4.64), (5.16, 4.69), (5.20, 4.65), (5.27, 4.66), (5.35, 4.62), (4.83, 4.69),
    (4.85, 4.75), (4.93, 4.71), (4.99, 4.76), (5.03, 4.73), (5.05, 4.78), (5.08, 4.74), (5.10, 4.79),
    (5.13, 4.77), (5.19, 4.76), (5.25, 4.75), (5.33, 4.74), (4.75, 4.74),
    (4.82, 4.89), (4.90, 4.84), (4.96, 4.89), (5.02, 4.82), (5.06, 4.85), (5.11, 4.89), (5.17, 4.88),
    (5.23, 4.85), (5.31, 4.89), (5.39, 4.81),
    (4.86, 4.95), (4.93, 4.98), (4.99, 4.91), (5.05, 4.96), (5.10, 4.93), (5.16, 4.99), (5.23, 4.94),
    (5.29, 4.99), (5.37, 4.92), (4.78, 4.93), (5.06, 5.02), (5.15, 5.06), (5.20, 5.00),
    (5.20, 3.87), (5.27, 3.89), (5.32, 3.93), (5.18, 3.99), (5.25, 3.99), (5.29, 3.98),
    (5.14, 4.06), (5.20, 4.07), (5.22, 4.04), (5.27, 4.05), (5.30, 4.03), (5.33, 4.06), (5.37, 4.03),
    (5.39, 4.10), (5.24, 4.10),
    (5.13, 4.16), (5.16, 4.11), (5.19, 4.14), (5.21, 4.18), (5.24, 4.13), (5.26, 4.16), (5.29, 4.14),
    (5.30, 4.18), (5.34, 4.12), (5.38, 4.15), (5.23, 4.11),
    (5.10, 4.21), (5.14, 4.28), (5.16, 4.23), (5.18, 4.26), (5.21, 4.28), (5.23, 4.22), (5.26, 4.24),
    (5.27, 4.28), (5.30, 4.22), (5.33, 4.28), (5.37, 4.25),
    (5.07, 4.31), (5.12, 4.34), (5.14, 4.39), (5.16, 4.35), (5.19, 4.38), (5.21, 4.32), (5.23, 4.36),
    (5.27, 4.38), (5.30, 4.33), (5.33, 4.38), (5.35, 4.34),
    (5.04, 4.45), (5.09, 4.41), (5.12, 4.47), (5.14, 4.43), (5.16, 4.49), (5.19, 4.42), (5.21, 4.48),
    (5.24, 4.44), (5.26, 4.41), (5.29, 4.47), (5.32, 4.42),
    (5.00, 4.54), (5.04, 4.59), (5.06, 4.52), (5.09, 4.54), (5.11, 4.58), (5.14, 4.54), (5.18, 4.55),
    (5.20, 4.59), (5.22, 4.53), (5.29, 4.57),
    (4.97, 4.64), (5.02, 4.69), (5.04, 4.65), (5.08, 4.66), (5.10, 4.62), (5.12, 4.66), (5.15, 4.63),
    (5.17, 4.65), (5.22, 4.68), (5.32, 4.64),
    (4.95, 4.78), (5.00, 4.72), (5.04, 4.76), (5.07, 4.77), (5.09, 4.72), (5.12, 4.74), (5.15, 4.78),
    (5.21, 4.72), (5.28, 4.78),
    (4.92, 4.82), (4.98, 4.86), (5.07, 4.88), (5.13, 4.82), (5.18, 4.85), (5.25, 4.82),
]

x_ticks = [0, 1, 2, 3, 4, 5, 6]
y_ticks = [-1, 0, 1, 2, 3, 4, 5, 6]
y_tick_text = ["-1", "0", "1", "2", "3", "4", "5", "6"]

# ---- styling ------------------------------------------------------------
FONT = "Noto Sans"
INK = "rgb(38,38,38)"
ZONE_FILL = "rgb(166,248,166)"
ZONE_EDGE = "rgb(70,70,70)"
FRAME = "rgb(90,90,90)"

all_particles = (particles_start + particles_early + particles_fan + particles_zone1
                 + particles_zone2 + particles_zone3 + particles_zone4 + particles_final)
part_x = [p[0] for p in all_particles]
part_y = [p[1] for p in all_particles]

fig = go.Figure()

# legend row for the zones; its swatch is the rectangle drawn in the legend area below
fig.add_trace(go.Scatter(
    x=[None], y=[None], mode="markers", name="Observable Zones",
    marker=dict(size=1, opacity=0), legendrank=1))

fig.add_trace(go.Scatter(
    x=part_x, y=part_y, mode="markers", name="Particles",
    marker=dict(color="rgb(0,0,255)", size=3.5, line=dict(width=0)),
    legendrank=4))

fig.add_trace(go.Scatter(
    x=truth_x, y=truth_y, mode="markers", name="Ground Truth Path",
    marker=dict(symbol="circle-open", color="rgb(255,0,255)", size=8,
                line=dict(width=2.2, color="rgb(255,0,255)")),
    legendrank=2))

fig.add_trace(go.Scatter(
    x=est_x, y=est_y, mode="markers", name="Estimated State",
    marker=dict(symbol="circle-open", color="black", size=8,
                line=dict(width=2.2, color="black")),
    legendrank=3))

fig.add_trace(go.Scatter(
    x=goal_x, y=goal_y, mode="markers", name="Goal Location",
    marker=dict(symbol="x", color="rgb(255,0,0)", size=15, line=dict(width=0)),
    legendrank=5))

# observable zones as discs
for cx, cy, r in zip(zone_cx, zone_cy, zone_r):
    fig.add_shape(type="circle", xref="x", yref="y",
                  x0=cx - r, x1=cx + r, y0=cy - r, y1=cy + r,
                  fillcolor=ZONE_FILL, line=dict(color=ZONE_EDGE, width=0.8),
                  layer="below")

# legend backing (the legend itself is transparent) and the zone swatch
fig.add_shape(type="rect", xref="paper", yref="paper",
              x0=0.0084, x1=0.1977, y0=0.8640, y1=0.9927,
              fillcolor="white", line=dict(width=0), layer="above")
fig.add_shape(type="rect", xref="paper", yref="paper",
              x0=0.0147, x1=0.0494, y0=0.9676, y1=0.9833,
              fillcolor=ZONE_FILL, line=dict(color=ZONE_EDGE, width=0.8), layer="above")

axis_common = dict(
    showgrid=True, gridcolor="rgb(232,232,232)", gridwidth=1,
    zeroline=False, showline=True, linecolor=FRAME, linewidth=1,
    mirror=True, ticks="inside", ticklen=5, tickcolor=FRAME,
    tickfont=dict(family=FONT, size=15, color=INK),
)

fig.update_layout(
    width=1007, height=1076,
    margin=dict(l=55, r=1, t=62, b=58),
    paper_bgcolor="white", plot_bgcolor="white",
    font=dict(family=FONT, color=INK),
    xaxis=dict(range=[-0.748, 6.44], tickvals=x_ticks, **axis_common),
    yaxis=dict(range=[-1.13, 6.11], tickvals=y_ticks, ticktext=y_tick_text, **axis_common),
    showlegend=True,
    legend=dict(
        x=0.0074, y=0.9937, xanchor="left", yanchor="top",
        bgcolor="rgba(0,0,0,0)", bordercolor=FRAME, borderwidth=1,
        font=dict(family=FONT, size=15, color=INK),
        tracegroupgap=0, itemwidth=34,
    ),
    annotations=[
        dict(text="<b>Robot Ground Truth vs. State Estimate Using 100 Particles</b>",
             xref="paper", yref="paper", x=0.508, y=1.0515, xanchor="center", yanchor="middle",
             showarrow=False, font=dict(family=FONT, size=16.5, color="black")),
        dict(text="Mission Length: 28.5 sec Path Planning + 80.5 sec Driving",
             xref="paper", yref="paper", x=0.508, y=1.0195, xanchor="center", yanchor="middle",
             showarrow=False, font=dict(family=FONT, size=16.5, color="black")),
        dict(text="Distance (m)", xref="paper", yref="paper", x=0.5, y=-0.046,
             xanchor="center", yanchor="middle", showarrow=False,
             font=dict(family=FONT, size=16.5, color=INK)),
        dict(text="Distance (m)", xref="paper", yref="paper", x=-0.039, y=0.5,
             xanchor="center", yanchor="middle", showarrow=False, textangle=-90,
             font=dict(family=FONT, size=16.5, color=INK)),
    ],
)

fig.write_html("out.html")
